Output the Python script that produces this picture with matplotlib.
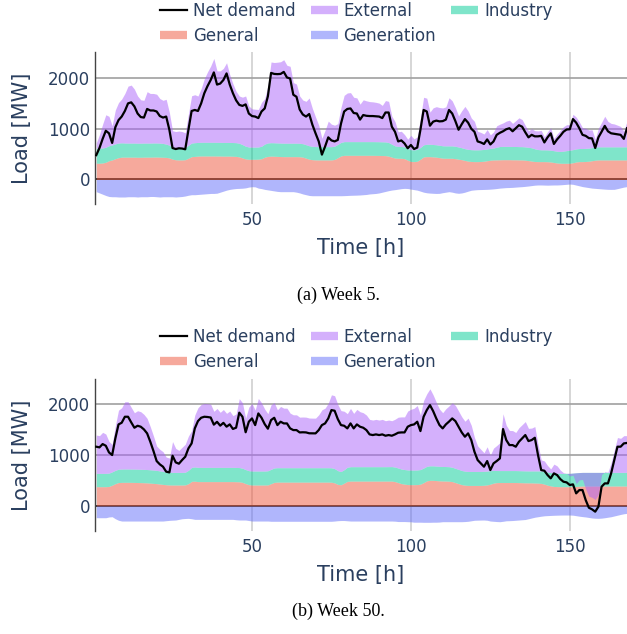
import numpy as np
import matplotlib
matplotlib.use('Agg')
import matplotlib.pyplot as plt
from matplotlib.lines import Line2D

plt.rcParams['font.family'] = ['DejaVu Sans']

hours = np.arange(1, 169)

# ---- week 5 ----
w5_net = [
    480, 620, 800, 960, 910, 720, 1030, 1170, 1240, 1350, 1500, 1520, 1440, 1300, 1230, 1220, 1390, 1360, 1360, 1340, 1250, 1220, 1240, 980,
    620, 600, 615, 610, 595, 980, 1350, 1370, 1350, 1500, 1700, 1840, 1960, 2110, 1870, 1890, 1960, 2090, 1870, 1700, 1560, 1470, 1450, 1480,
    1300, 1250, 1240, 1210, 1340, 1400, 1640, 2100, 2080, 2076, 2080, 2120, 2010, 1990, 1670, 1630, 1380, 1280, 1240, 1290, 1080, 910, 750, 490,
    650, 830, 770, 750, 780, 1100, 1340, 1390, 1400, 1310, 1300, 1180, 1270, 1255, 1250, 1250, 1245, 1240, 1210, 1320, 1320, 1040, 940, 750,
    770, 710, 615, 680, 600, 630, 980, 1370, 1340, 1060, 1140, 1160, 1145, 1150, 1180, 1370, 1300, 1150, 980, 1090, 1190, 1120, 1000, 940,
    750, 730, 700, 790, 690, 750, 880, 920, 950, 990, 1010, 950, 1010, 1070, 1040, 930, 830, 880, 850, 850, 860, 730, 830, 910,
    700, 790, 860, 940, 985, 990, 1190, 1120, 1010, 880, 860, 815, 810, 620, 830, 940, 1056, 950, 910, 900, 890, 880, 800, 1010,
]
w5_general = [
    320, 320, 325, 340, 370, 385, 410, 430, 440, 440, 440, 440, 440, 438, 438, 440, 440, 440, 442, 442, 440, 438, 435, 425,
    400, 388, 385, 385, 390, 420, 450, 455, 460, 463, 463, 463, 463, 463, 462, 462, 460, 460, 460, 458, 455, 445, 425, 405,
    398, 398, 398, 400, 410, 440, 455, 460, 458, 455, 452, 450, 450, 450, 450, 450, 448, 440, 420, 400, 390, 386, 385, 385,
    385, 385, 385, 395, 430, 465, 476, 476, 476, 476, 476, 476, 476, 476, 476, 476, 475, 474, 472, 470, 460, 440, 422, 418,
    418, 410, 380, 355, 352, 360, 400, 445, 450, 450, 445, 440, 430, 420, 418, 418, 418, 410, 400, 390, 375, 362, 355, 352,
    352, 355, 360, 370, 380, 385, 386, 388, 390, 390, 390, 388, 388, 386, 385, 380, 372, 362, 354, 352, 352, 352, 350, 345,
    335, 325, 320, 319, 319, 320, 330, 345, 352, 352, 355, 360, 370, 380, 385, 385, 385, 385, 385, 385, 385, 385, 385, 385,
]
w5_industry = [
    295, 295, 295, 295, 295, 295, 292, 288, 282, 278, 277, 277, 277, 277, 277, 277, 277, 277, 277, 277, 276, 272, 262, 250,
    238, 235, 235, 235, 238, 255, 268, 270, 270, 270, 270, 270, 270, 270, 270, 270, 270, 270, 270, 270, 270, 268, 262, 250,
    242, 240, 240, 240, 245, 258, 265, 265, 265, 265, 265, 265, 265, 265, 265, 265, 265, 265, 265, 264, 263, 262, 262, 262,
    262, 262, 262, 262, 262, 266, 270, 270, 270, 270, 270, 270, 270, 270, 270, 270, 270, 270, 270, 270, 268, 255, 240, 233,
    232, 232, 232, 232, 232, 232, 232, 238, 244, 244, 244, 244, 244, 244, 244, 244, 244, 244, 240, 235, 232, 232, 232, 232,
    232, 232, 232, 232, 232, 235, 250, 262, 262, 262, 262, 262, 262, 262, 262, 262, 262, 262, 250, 238, 232, 232, 232, 232,
    232, 232, 232, 240, 250, 258, 258, 258, 258, 258, 258, 258, 258, 258, 258, 258, 258, 258, 258, 258, 258, 258, 258, 258,
]
w5_generation = [
    -240, -265, -290, -315, -335, -340, -340, -345, -345, -345, -340, -340, -340, -345, -340, -340, -340, -335, -335, -340, -345, -340, -340, -340,
    -340, -345, -340, -335, -325, -310, -300, -300, -295, -290, -285, -280, -275, -275, -270, -250, -230, -210, -195, -185, -178, -175, -172, -165,
    -150, -142, -145, -170, -180, -195, -205, -215, -225, -235, -240, -240, -240, -240, -240, -250, -265, -285, -300, -315, -320, -320, -320, -320,
    -320, -320, -320, -320, -320, -320, -318, -315, -312, -310, -308, -305, -300, -295, -285, -280, -275, -265, -250, -235, -220, -208, -200, -190,
    -180, -175, -178, -190, -200, -210, -230, -250, -262, -268, -272, -275, -273, -260, -250, -240, -250, -265, -272, -265, -250, -230, -212, -205,
    -200, -198, -196, -194, -190, -185, -178, -170, -165, -160, -158, -155, -150, -145, -141, -135, -128, -120, -112, -108, -108, -110, -112, -110,
    -108, -108, -105, -100, -95, -90, -95, -110, -125, -140, -150, -160, -170, -175, -180, -185, -190, -194, -195, -194, -180, -165, -150, -140,
]

# ---- week 50 ----
w50_net = [
    1166, 1153, 1218, 1185, 1054, 1002, 1329, 1604, 1637, 1755, 1755, 1644, 1539, 1578, 1559, 1506, 1428, 1264, 1081, 884, 819, 773, 675, 661,
    989, 858, 832, 904, 969, 1133, 1231, 1526, 1670, 1735, 1755, 1750, 1740, 1600, 1655, 1580, 1635, 1560, 1605, 1515, 1540, 1835, 1755, 1450,
    1657, 1722, 1591, 1820, 1735, 1610, 1520, 1690, 1735, 1591, 1657, 1624, 1624, 1526, 1493, 1493, 1447, 1450, 1447, 1430, 1428, 1428, 1493, 1591,
    1624, 1722, 1886, 1873, 1709, 1591, 1578, 1526, 1624, 1526, 1604, 1559, 1539, 1493, 1408, 1395, 1408, 1395, 1408, 1382, 1395, 1382, 1408, 1441,
    1447, 1447, 1559, 1591, 1604, 1657, 1473, 1755, 1886, 1984, 1866, 1720, 1591, 1526, 1604, 1660, 1722, 1670, 1559, 1447, 1362, 1428, 1297, 1067,
    904, 838, 773, 884, 707, 838, 884, 936, 1513, 1297, 1198, 1198, 1166, 1264, 1329, 1395, 1277, 1297, 1342, 1002, 707, 694, 609, 544,
    642, 609, 530, 478, 465, 413, 426, 249, 314, 314, 118, -33, -65, -111, -13, 380, 445, 445, 642, 904, 1166, 1166, 1231, 1240,
]
w50_general = [
    380, 380, 380, 380, 385, 410, 440, 462, 465, 466, 466, 465, 464, 462, 460, 458, 455, 450, 445, 440, 432, 425, 418, 414,
    413, 413, 413, 413, 415, 440, 485, 488, 480, 480, 480, 480, 480, 480, 480, 480, 480, 480, 480, 480, 478, 476, 465, 440,
    420, 413, 413, 413, 413, 413, 415, 440, 465, 470, 470, 470, 470, 470, 470, 470, 470, 470, 470, 470, 470, 470, 470, 470,
    470, 470, 468, 455, 425, 418, 450, 485, 490, 490, 490, 490, 490, 490, 490, 490, 490, 490, 490, 490, 490, 490, 480, 460,
    440, 430, 422, 420, 420, 422, 430, 460, 495, 505, 505, 500, 495, 492, 491, 488, 480, 460, 440, 420, 410, 405, 405, 405,
    405, 405, 408, 415, 430, 450, 460, 462, 462, 462, 462, 462, 462, 460, 458, 456, 455, 455, 452, 450, 445, 430, 410, 395,
    385, 382, 380, 380, 380, 380, 382, 385, 390, 393, 393, 393, 393, 393, 393, 393, 393, 393, 393, 393, 393, 393, 393, 393,
]
w50_industry = [
    262, 262, 262, 262, 262, 262, 262, 262, 262, 262, 262, 262, 262, 262, 262, 262, 262, 262, 262, 260, 258, 255, 252, 250,
    248, 248, 248, 248, 250, 262, 275, 280, 280, 280, 280, 280, 280, 280, 280, 280, 280, 280, 280, 280, 280, 280, 278, 276,
    275, 275, 275, 275, 275, 275, 278, 282, 283, 283, 283, 283, 283, 283, 283, 283, 283, 283, 283, 283, 283, 283, 283, 283,
    283, 283, 283, 280, 270, 260, 265, 278, 283, 283, 283, 283, 283, 283, 283, 283, 283, 283, 283, 283, 284, 285, 286, 287,
    287, 287, 287, 287, 287, 287, 287, 287, 285, 285, 285, 285, 285, 285, 285, 285, 282, 280, 280, 278, 276, 275, 275, 275,
    275, 275, 275, 272, 265, 250, 238, 235, 235, 235, 235, 235, 235, 235, 235, 235, 235, 235, 238, 240, 245, 252, 258, 262,
    262, 262, 262, 262, 262, 262, 265, 268, 268, 268, 268, 268, 268, 268, 268, 268, 268, 268, 268, 268, 268, 268, 268, 268,
]
w50_generation = [
    -229, -230, -230, -230, -215, -210, -250, -280, -295, -295, -295, -295, -295, -295, -295, -295, -295, -295, -295, -295, -295, -295, -288, -282,
    -278, -275, -262, -250, -245, -242, -250, -262, -262, -262, -262, -262, -262, -262, -262, -262, -262, -262, -262, -262, -270, -275, -275, -275,
    -285, -295, -295, -295, -295, -295, -295, -300, -300, -300, -300, -300, -300, -300, -300, -300, -300, -300, -300, -300, -300, -300, -300, -300,
    -300, -300, -300, -295, -288, -285, -285, -290, -295, -295, -295, -295, -295, -295, -295, -295, -295, -295, -295, -295, -295, -295, -298, -305,
    -305, -305, -308, -310, -318, -318, -318, -320, -320, -320, -318, -318, -315, -308, -308, -308, -308, -308, -308, -308, -305, -300, -290, -280,
    -278, -276, -275, -280, -295, -300, -305, -308, -300, -290, -288, -285, -280, -275, -270, -265, -250, -235, -220, -210, -200, -192, -188, -185,
    -182, -180, -178, -177, -177, -177, -180, -190, -200, -208, -215, -225, -235, -240, -242, -238, -230, -220, -210, -195, -180, -165, -152, -144,
]

C_GENERAL = '#EF553B'
C_INDUSTRY = '#00CC96'
C_EXTERNAL = '#AB63FA'
C_GENERATION = '#636EFA'
TXT = '#2a3f5f'


def draw(ax, net, general, industry, generation, ylim, legend_top):
    net = np.array(net, dtype=float)
    general = np.array(general, dtype=float)
    industry = np.array(industry, dtype=float)
    generation = np.array(generation, dtype=float)
    # external is whatever is left once local load and generation are known
    external = net - generation - general - industry
    base = general + industry

    ax.axhline(0, color='#222222', lw=1.2, zorder=0.6)
    ax.fill_between(hours, 0, general, color=C_GENERAL, alpha=0.5, lw=0)
    ax.fill_between(hours, general, base, color=C_INDUSTRY, alpha=0.5, lw=0)
    ax.fill_between(hours, base, base + external, color=C_EXTERNAL, alpha=0.5, lw=0)
    ax.fill_between(hours, 0, generation, color=C_GENERATION, alpha=0.5, lw=0)
    ax.plot(hours, net, color='black', lw=1.6, zorder=3)

    ax.set_xlim(0.6, 168)
    ax.set_ylim(*ylim)
    ax.set_xticks([50, 100, 150])
    ax.set_yticks([0, 1000, 2000])
    ax.set_axisbelow(True)
    ax.grid(axis='y', color='#a0a0a0', lw=1.2)
    ax.grid(axis='x', color='#d0d0d0', lw=1.2)
    for s in ['top', 'right', 'bottom']:
        ax.spines[s].set_visible(False)
    ax.spines['left'].set_color('#444444')
    ax.spines['left'].set_linewidth(1.0)
    ax.tick_params(length=0, labelsize=12, colors=TXT)
    ax.tick_params(axis='x', pad=5)
    ax.tick_params(axis='y', pad=3.5)
    ax.set_xlabel('Time [h]', fontsize=15, color=TXT)
    ax.set_ylabel('Load [MW]', fontsize=15, color=TXT)
    ax.xaxis.set_label_coords(0.5, -0.225)
    ax.yaxis.set_label_coords(-0.118, 0.5)

    handles = [
        Line2D([], [], color='black', lw=1.6),
        Line2D([], [], color=C_GENERAL, alpha=0.5, lw=6, solid_capstyle='butt'),
        Line2D([], [], color=C_EXTERNAL, alpha=0.5, lw=6, solid_capstyle='butt'),
        Line2D([], [], color=C_GENERATION, alpha=0.5, lw=6, solid_capstyle='butt'),
        Line2D([], [], color=C_INDUSTRY, alpha=0.5, lw=6, solid_capstyle='butt'),
    ]
    labels = ['Net demand', 'General', 'External', 'Generation', 'Industry']
    ax.figure.legend(handles, labels, ncol=3, frameon=False, fontsize=12,
                     labelcolor=TXT, loc='upper left',
                     bbox_to_anchor=(160 / 627, legend_top),
                     borderpad=0, borderaxespad=0, handlelength=1.62,
                     handletextpad=0.36, columnspacing=0.9, labelspacing=0.42)


fig = plt.figure(figsize=(6.27, 6.34), dpi=100)
ax1 = fig.add_axes([95 / 627, 1 - 204 / 634, 532 / 627, 152 / 634])
ax2 = fig.add_axes([95 / 627, 1 - 530.7 / 634, 532 / 627, 151.4 / 634])

draw(ax1, w5_net, w5_general, w5_industry, w5_generation, (-483, 2512), 1 - 2 / 634)
draw(ax2, w50_net, w50_general, w50_industry, w50_generation, (-485, 2491), 1 - 328 / 634)

fig.text(338 / 627, 1 - 295 / 634, '(a) Week 5.', ha='center', va='center',
         family='Liberation Serif', fontsize=13, color='black')
fig.text(338 / 627, 1 - 611 / 634, '(b) Week 50.', ha='center', va='center',
         family='Liberation Serif', fontsize=13, color='black')

fig.savefig('out.png', dpi=100)
